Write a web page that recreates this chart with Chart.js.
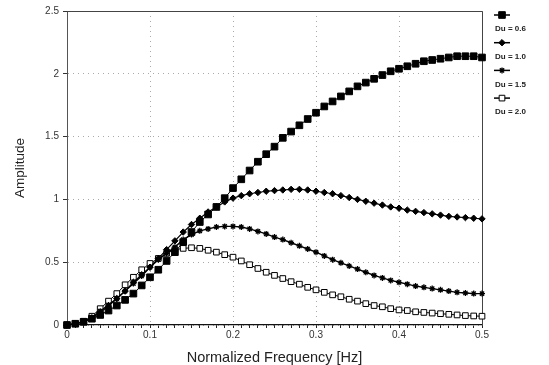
<!DOCTYPE html>
<html>
<head>
<meta charset="utf-8">
<title>Amplitude vs normalized frequency</title>
<script src="https://cdn.jsdelivr.net/npm/chart.js@4.4.0/dist/chart.umd.min.js"></script>
<style>
  html, body { margin: 0; padding: 0; background: #fff; }
  #wrap { width: 549px; height: 365px; }
</style>
</head>
<body>
<div id="wrap"><canvas id="ampChart" width="549" height="365"></canvas></div>
<script>
// frequency grid, one point every 0.01 Hz
const freq = [
  0, 0.01, 0.02, 0.03, 0.04, 0.05, 0.06, 0.07, 0.08, 0.09,
  0.10, 0.11, 0.12, 0.13, 0.14, 0.15, 0.16, 0.17, 0.18, 0.19,
  0.20, 0.21, 0.22, 0.23, 0.24, 0.25, 0.26, 0.27, 0.28, 0.29,
  0.30, 0.31, 0.32, 0.33, 0.34, 0.35, 0.36, 0.37, 0.38, 0.39,
  0.40, 0.41, 0.42, 0.43, 0.44, 0.45, 0.46, 0.47, 0.48, 0.49, 0.50
];

const du06 = [
  0, 0.01, 0.025, 0.05, 0.08, 0.115, 0.155, 0.20, 0.25, 0.315,
  0.38, 0.44, 0.51, 0.58, 0.66, 0.74, 0.82, 0.88, 0.94, 1.01,
  1.09, 1.16, 1.23, 1.30, 1.36, 1.42, 1.49, 1.54, 1.59, 1.64,
  1.69, 1.74, 1.78, 1.82, 1.86, 1.90, 1.93, 1.96, 1.99, 2.02,
  2.04, 2.06, 2.08, 2.10, 2.11, 2.12, 2.13, 2.14, 2.14, 2.14, 2.13
];

const du10 = [
  0, 0.01, 0.025, 0.055, 0.10, 0.15, 0.21, 0.27, 0.34, 0.40,
  0.46, 0.53, 0.60, 0.67, 0.74, 0.80, 0.85, 0.90, 0.94, 0.98,
  1.01, 1.03, 1.045, 1.055, 1.065, 1.07, 1.075, 1.08, 1.08, 1.075,
  1.065, 1.055, 1.045, 1.03, 1.015, 1.0, 0.985, 0.97, 0.955, 0.94,
  0.93, 0.915, 0.905, 0.895, 0.885, 0.875, 0.865, 0.86, 0.855, 0.85, 0.845
];

const du15 = [
  0, 0.01, 0.025, 0.06, 0.11, 0.16, 0.21, 0.27, 0.33, 0.39,
  0.46, 0.52, 0.57, 0.62, 0.68, 0.72, 0.75, 0.765, 0.78, 0.785,
  0.785, 0.78, 0.765, 0.745, 0.725, 0.70, 0.68, 0.655, 0.63, 0.605,
  0.58, 0.55, 0.52, 0.495, 0.47, 0.445, 0.42, 0.395, 0.375, 0.355,
  0.34, 0.325, 0.31, 0.30, 0.29, 0.28, 0.27, 0.26, 0.255, 0.25, 0.25
];

const du20 = [
  0, 0.01, 0.03, 0.07, 0.13, 0.19, 0.25, 0.32, 0.38, 0.44,
  0.49, 0.53, 0.57, 0.60, 0.61, 0.615, 0.61, 0.595, 0.58, 0.56,
  0.54, 0.51, 0.48, 0.45, 0.42, 0.395, 0.37, 0.345, 0.325, 0.30,
  0.28, 0.26, 0.24, 0.225, 0.205, 0.19, 0.17, 0.155, 0.145, 0.13,
  0.12, 0.115, 0.105, 0.10, 0.095, 0.09, 0.085, 0.08, 0.075, 0.072, 0.07
];

const seriesNames = ['Du = 0.6', 'Du = 1.0', 'Du = 1.5', 'Du = 2.0'];
const xTicks = [0, 0.1, 0.2, 0.3, 0.4, 0.5];
const yTicks = [0, 0.5, 1, 1.5, 2, 2.5];

Chart.defaults.font.family = '"Liberation Sans", Arial, sans-serif';
Chart.defaults.color = '#333';

function toPoints(values) {
  return values.map((v, i) => ({ x: freq[i], y: v }));
}

function isLabelled(v) {
  return xTicks.some(t => Math.abs(t - v) < 1e-6);
}

// marker line + symbol stacked above each label, right of the plot
const sideLegend = {
  id: 'sideLegend',
  afterDraw(chart) {
    const ctx = chart.ctx;
    chart.data.datasets.forEach((ds, i) => {
      const y = 15 + i * 27.7;
      ctx.save();
      ctx.strokeStyle = '#000';
      ctx.lineWidth = 1.5;
      ctx.beginPath();
      ctx.moveTo(494, y);
      ctx.lineTo(510, y);
      ctx.stroke();
      if (Chart.helpers && Chart.helpers.drawPoint) {
        ctx.fillStyle = ds.pointBackgroundColor;
        ctx.strokeStyle = ds.pointBorderColor;
        ctx.lineWidth = ds.pointBorderWidth;
        Chart.helpers.drawPoint(ctx, {
          pointStyle: ds.pointStyle,
          radius: ds.pointRadius,
          borderWidth: ds.pointBorderWidth,
          rotation: 0
        }, 502, y);
      }
      ctx.fillStyle = '#222';
      ctx.font = 'bold 8px "Liberation Sans", Arial, sans-serif';
      ctx.textBaseline = 'middle';
      ctx.textAlign = 'left';
      ctx.fillText(ds.label, 495, y + 14);
      ctx.restore();
    });
  }
};

// top and right edges of the plot box
const plotFrame = {
  id: 'plotFrame',
  beforeDatasetsDraw(chart) {
    const { ctx, chartArea: a } = chart;
    ctx.save();
    ctx.strokeStyle = '#444';
    ctx.lineWidth = 1;
    ctx.beginPath();
    ctx.moveTo(a.left, a.top + 0.5);
    ctx.lineTo(a.right + 0.5, a.top + 0.5);
    ctx.lineTo(a.right + 0.5, a.bottom);
    ctx.stroke();
    ctx.restore();
  }
};

const ampChart = new Chart(document.getElementById('ampChart'), {
  type: 'line',
  data: {
    datasets: [
      {
        label: seriesNames[0],
        data: toPoints(du06),
        borderColor: '#000',
        borderWidth: 1,
        pointStyle: 'rect',
        pointRadius: 4.7,
        pointBackgroundColor: '#000',
        pointBorderColor: '#000',
        pointBorderWidth: 1
      },
      {
        label: seriesNames[1],
        data: toPoints(du10),
        borderColor: '#000',
        borderWidth: 1.2,
        pointStyle: 'rectRot',
        pointRadius: 3.2,
        pointBackgroundColor: '#000',
        pointBorderColor: '#000',
        pointBorderWidth: 1
      },
      {
        label: seriesNames[2],
        data: toPoints(du15),
        borderColor: '#000',
        borderWidth: 1.4,
        pointStyle: 'star',
        pointRadius: 3,
        pointBackgroundColor: '#000',
        pointBorderColor: '#000',
        pointBorderWidth: 1.3
      },
      {
        label: seriesNames[3],
        data: toPoints(du20),
        borderColor: '#000',
        borderWidth: 1,
        pointStyle: 'rect',
        pointRadius: 4,
        pointBackgroundColor: '#fff',
        pointBorderColor: '#000',
        pointBorderWidth: 1
      }
    ]
  },
  options: {
    responsive: false,
    animation: false,
    devicePixelRatio: 1,
    clip: false,
    layout: { padding: { top: 11, right: 67, left: 0, bottom: 0 } },
    plugins: {
      legend: { display: false },
      tooltip: { enabled: false }
    },
    scales: {
      x: {
        type: 'linear',
        min: 0,
        max: 0.5,
        afterFit: scale => { scale.height = 40; },
        ticks: {
          stepSize: 0.01,
          autoSkip: false,
          maxRotation: 0,
          padding: 1,
          font: { size: 10 },
          color: '#333',
          callback: v => isLabelled(v) ? (v === 0 ? '0' : v.toFixed(1)) : ''
        },
        grid: {
          color: ctx => (ctx.tick && isLabelled(ctx.tick.value)) ? '#aaa' : 'rgba(0,0,0,0)',
          tickColor: '#222',
          tickLength: 3,
          lineWidth: 1
        },
        border: { color: '#111', width: 1.2, dash: [1, 4] },
        title: {
          display: true,
          text: 'Normalized Frequency [Hz]',
          font: { size: 14.5, lineHeight: 1 },
          color: '#222',
          padding: { top: 0, bottom: 0 }
        }
      },
      y: {
        min: 0,
        max: 2.5,
        afterFit: scale => { scale.width = 67; },
        afterBuildTicks: scale => { scale.ticks = yTicks.map(v => ({ value: v })); },
        ticks: {
          padding: 4,
          font: { size: 10 },
          color: '#333',
          callback: v => String(v)
        },
        grid: {
          color: '#aaa',
          tickColor: '#333',
          tickLength: 4,
          lineWidth: 1
        },
        border: { color: '#555', width: 1, dash: [1, 4] },
        title: {
          display: true,
          text: 'Amplitude',
          font: { size: 13.5, lineHeight: 1 },
          color: '#222',
          padding: { top: 14, bottom: 0 }
        }
      }
    }
  },
  plugins: [plotFrame, sideLegend]
});
</script>
</body>
</html>
